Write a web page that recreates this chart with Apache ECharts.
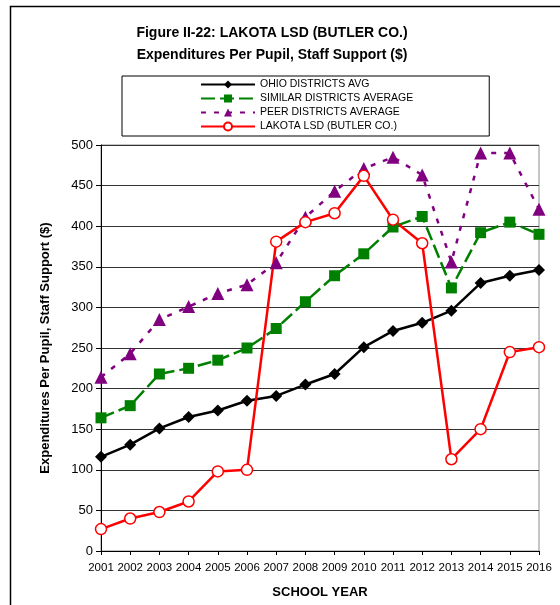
<!DOCTYPE html>
<html>
<head>
<meta charset="utf-8">
<script src="https://cdn.jsdelivr.net/npm/echarts@6/dist/echarts.min.js"></script>
<style>html,body{margin:0;padding:0;background:#fff}#c{width:560px;height:605px}</style>
</head>
<body>
<div id="c"></div>
<script>
const years = ['2001','2002','2003','2004','2005','2006','2007','2008','2009','2010','2011','2012','2013','2014','2015','2016'];
const ohioAvg = [116,131,151,165,173,185,191,205,218,251,271,281,296,330,339,346];
const similarAvg = [164,179,218,225,235,250,274,307,339,366,399,412,324,392,405,390];
const peerAvg = [214,243,285,301,317,328,355,411,443,471,485,463,356,490,490,421];
const lakota = [27,40,48,61,98,100,381,405,416,462,408,379,113,150,245,251];
const yTicks = {min:0, max:500, interval:50};

const font = 'Liberation Sans, Arial, sans-serif';
const chart = echarts.init(document.getElementById('c'), null, {renderer:'canvas'});
chart.setOption({
  animation:false,
  backgroundColor:'#fff',
  graphic:[
    {type:'rect', left:8, top:4, shape:{width:620, height:660}, style:{fill:'none', stroke:'#000', lineWidth:1.5}, z:-10},
    {type:'text', x:272, y:26, style:{text:'Figure II-22: LAKOTA LSD (BUTLER CO.)', font:'bold 14px '+font, fill:'#000', align:'center'}},
    {type:'text', x:272, y:48, style:{text:'Expenditures Per Pupil, Staff Support ($)', font:'bold 14px '+font, fill:'#000', align:'center'}}
  ],
  legend:{
    orient:'vertical', left:122, top:76,
    padding:[2,76,3,78],
    borderColor:'#000', borderWidth:1,
    itemWidth:54, itemHeight:10, itemGap:1,
    textStyle:{fontFamily:font, fontSize:10.5, color:'#000', lineHeight:13},
    data:['OHIO DISTRICTS AVG','SIMILAR DISTRICTS AVERAGE','PEER DISTRICTS AVERAGE','LAKOTA LSD (BUTLER CO.)']
  },
  grid:{left:101, right:21, top:145, bottom:54, show:true, borderColor:'#8c8c8c', borderWidth:1},
  xAxis:{
    type:'category', data:years, boundaryGap:false,
    axisLine:{lineStyle:{color:'#000', width:1}},
    axisTick:{show:true, inside:false, length:4, interval:0, lineStyle:{color:'#000'}},
    axisLabel:{fontFamily:font, fontSize:11.5, color:'#000', margin:11, interval:0},
    name:'SCHOOL YEAR', nameLocation:'middle', nameGap:35,
    nameTextStyle:{fontFamily:font, fontSize:13, fontWeight:'bold', color:'#000'}
  },
  yAxis:{
    type:'value', min:yTicks.min, max:yTicks.max, interval:yTicks.interval,
    axisLine:{show:true, lineStyle:{color:'#000', width:1}},
    axisTick:{show:true, inside:false, length:5, lineStyle:{color:'#000'}},
    axisLabel:{fontFamily:font, fontSize:13, color:'#000', margin:8},
    splitLine:{show:true, lineStyle:{color:'#333', width:1}},
    name:'Expenditures Per Pupil, Staff Support ($)', nameLocation:'middle', nameGap:49,
    nameTextStyle:{fontFamily:font, fontSize:13, fontWeight:'bold', color:'#000'}
  },
  series:[
    {name:'OHIO DISTRICTS AVG', type:'line', data:ohioAvg, symbol:'diamond', symbolSize:12,
      itemStyle:{color:'#000'}, lineStyle:{color:'#000', width:2.5}},
    {name:'SIMILAR DISTRICTS AVERAGE', type:'line', data:similarAvg, symbol:'rect', symbolSize:11,
      itemStyle:{color:'#008000'}, lineStyle:{color:'#008000', width:2.5, type:[14,5]}},
    {name:'PEER DISTRICTS AVERAGE', type:'line', data:peerAvg, symbol:'triangle', symbolSize:13,
      itemStyle:{color:'#800080'}, lineStyle:{color:'#800080', width:2.5, type:[5,8]}},
    {name:'LAKOTA LSD (BUTLER CO.)', type:'line', data:lakota, symbol:'circle', symbolSize:11,
      itemStyle:{color:'#fff', borderColor:'#ff0000', borderWidth:1.5}, lineStyle:{color:'#ff0000', width:2.5}}
  ]
});
</script>
</body>
</html>
